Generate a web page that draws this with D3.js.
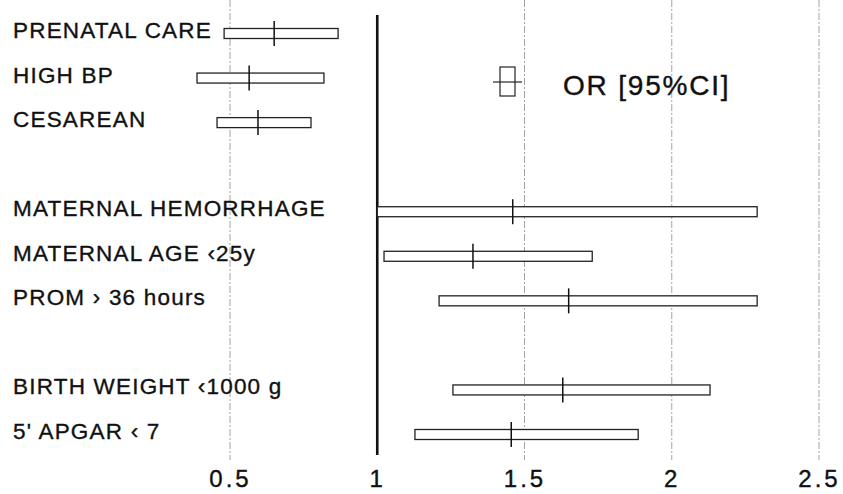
<!DOCTYPE html>
<html>
<head>
<meta charset="utf-8">
<script src="https://cdn.jsdelivr.net/npm/d3@7"></script>
<style>
  html, body { margin: 0; padding: 0; background: #fff; }
  svg { display: block; }
  text { font-family: "Liberation Sans", Arial, Helvetica, sans-serif; fill: #111; }
</style>
</head>
<body>
<svg id="chart" width="843" height="494"></svg>
<script>
// ---- data ----
const categories = [
  "PRENATAL CARE", "HIGH BP", "CESAREAN",
  "MATERNAL HEMORRHAGE", "MATERNAL AGE \u203925y", "PROM \u203A 36 hours",
  "BIRTH WEIGHT \u20391000 g", "5' APGAR \u2039 7"
];
const groups  = [0, 0, 0, 1, 1, 1, 2, 2];
const orValue = [0.65, 0.565, 0.595, 1.46, 1.325, 1.65, 1.63, 1.455];
const ciLow   = [0.48, 0.388, 0.456, 1.0, 1.023, 1.21, 1.257, 1.128];
const ciHigh  = [0.867, 0.819, 0.775, 2.29, 1.73, 2.29, 2.13, 1.886];
const xTicks  = [0.5, 1, 1.5, 2, 2.5];
const legendLabel = "OR [95%CI]";

// ---- layout ----
const svg = d3.select("#chart");

// slots with spacer rows between groups
const slots = [];
categories.forEach((c, i) => {
  if (i > 0 && groups[i] !== groups[i - 1]) slots.push("__gap" + i);
  slots.push(c);
});

const x = d3.scaleLinear().domain([0.5, 2.5]).range([230, 819]);
const y = d3.scalePoint().domain(slots).range([33.5, 434.5]).padding(0);

// grid lines
svg.append("g").selectAll("line")
  .data(xTicks.filter(t => t !== 1))
  .join("line")
  .attr("x1", d => x(d)).attr("x2", d => x(d))
  .attr("y1", 0).attr("y2", 460)
  .attr("stroke", "#9a9a9a").attr("stroke-width", 0.9)
  .attr("stroke-dasharray", "7,2,2,2");

// reference line at 1
svg.append("line")
  .attr("x1", x(1)).attr("x2", x(1))
  .attr("y1", 15).attr("y2", 455)
  .attr("stroke", "#111").attr("stroke-width", 2.6);

// x axis tick labels
const xAxis = d3.axisBottom(x).tickValues(xTicks).tickSize(0).tickPadding(0)
  .tickFormat(d3.format("~g"));
const gx = svg.append("g").attr("transform", "translate(0,470)").call(xAxis);
gx.select(".domain").remove();
gx.selectAll("text")
  .attr("dy", 0).attr("y", 17)
  .style("font-size", "24px").style("letter-spacing", "3px")
  .attr("fill", "#111").attr("stroke", "#111").attr("stroke-width", 0.4);

// labels
const rows = categories.map((c, i) => ({c, i}));
svg.append("g").selectAll("text")
  .data(rows).join("text")
  .attr("x", 13)
  .attr("y", d => y(d.c) + 4.5)
  .style("font-size", "22.5px")
  .style("letter-spacing", "1.2px")
  .attr("stroke", "#111").attr("stroke-width", 0.35)
  .text(d => d.c);

// CI boxes
const boxH = 10;
svg.append("g").selectAll("rect")
  .data(rows).join("rect")
  .attr("x", d => x(ciLow[d.i]))
  .attr("width", d => x(ciHigh[d.i]) - x(ciLow[d.i]))
  .attr("y", d => y(d.c) - boxH / 2)
  .attr("height", boxH)
  .attr("fill", "#fff").attr("stroke", "#222").attr("stroke-width", 1.3);

// OR ticks
svg.append("g").selectAll("line")
  .data(rows).join("line")
  .attr("x1", d => x(orValue[d.i])).attr("x2", d => x(orValue[d.i]))
  .attr("y1", d => y(d.c) - 12.5).attr("y2", d => y(d.c) + 12.5)
  .attr("stroke", "#111").attr("stroke-width", 1.5);

// legend
const lg = svg.append("g");
lg.append("rect").attr("x", 500).attr("y", 67).attr("width", 15).attr("height", 29)
  .attr("fill", "#fff").attr("stroke", "#222").attr("stroke-width", 1.2);
lg.append("line").attr("x1", 493).attr("x2", 522).attr("y1", 82).attr("y2", 82)
  .attr("stroke", "#222").attr("stroke-width", 1.2);
lg.append("text").attr("x", 563).attr("y", 94.5)
  .style("font-size", "28px").style("letter-spacing", "1.8px")
  .attr("stroke", "#111").attr("stroke-width", 0.4)
  .text(legendLabel);
</script>
</body>
</html>
